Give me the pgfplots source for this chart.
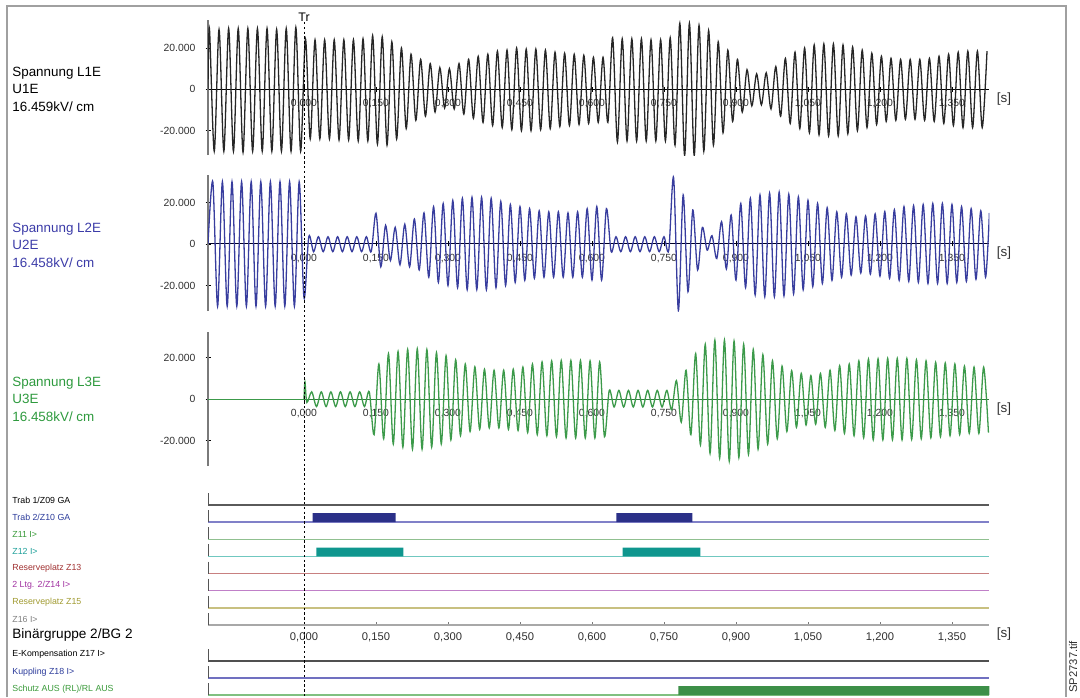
\documentclass[border=0pt]{standalone}
\usepackage{pgfplots}
\pgfplotsset{compat=1.18}
\usepackage{fontspec}
\setmainfont{Liberation Sans}
\setsansfont{Liberation Sans}
\definecolor{lone}{HTML}{262626}
\definecolor{ltwo}{HTML}{383D9E}
\definecolor{lthree}{HTML}{3C9A4A}
\definecolor{axgray}{HTML}{7A7A7A}
\definecolor{labgray}{HTML}{303030}
\definecolor{framecol}{HTML}{A0A0A0}
\definecolor{ltwolab}{HTML}{3C3CA8}
\definecolor{lthreelab}{HTML}{2E9A3E}
\definecolor{navylab}{HTML}{2A3A9A}
\definecolor{greenlab}{HTML}{3A9A3A}
\definecolor{teallab}{HTML}{1FA09A}
\definecolor{redlab}{HTML}{A03030}
\definecolor{purplab}{HTML}{A030A0}
\definecolor{olivlab}{HTML}{A09A30}
\definecolor{graylab}{HTML}{808080}
\definecolor{rTrabone}{HTML}{5A5A5A}
\definecolor{rTrabtwo}{HTML}{8080C8}
\definecolor{rZelf}{HTML}{90C090}
\definecolor{rZzwoelf}{HTML}{70C8C0}
\definecolor{rZdrei}{HTML}{C88080}
\definecolor{rZvier}{HTML}{C080C8}
\definecolor{rZfuenf}{HTML}{C8C080}
\definecolor{rZsechs}{HTML}{A8A8A8}
\definecolor{rEkomp}{HTML}{505050}
\definecolor{rKupp}{HTML}{7070C0}
\definecolor{rSchutz}{HTML}{80C080}
\definecolor{barnavy}{HTML}{2B3088}
\definecolor{barteal}{HTML}{0F968E}
\definecolor{bargreen}{HTML}{3D8F48}
\definecolor{rowtick}{HTML}{555555}

\pgfplotsset{
  wave/.style={
    scale only axis, width=390.7pt,
    xmin=-0.2, xmax=1.428,
    axis x line=middle, axis y line=left,
    axis line style={-},
    y axis line style={draw=axgray, line width=1pt},
    xtick={0,0.15,0.3,0.45,0.6,0.75,0.9,1.05,1.2,1.35},
    xticklabels={{0,000},{0,150},{0,300},{0,450},{0,600},{0,750},{0,900},{1,050},{1,200},{1,350}},
    ytick={-20,0,20},
    yticklabels={{-20.000},{0},{20.000}},
    hide obscured x ticks=false, hide obscured y ticks=false,
    tick label style={font=\fontsize{5.2}{6}\selectfont, text=labgray},
    xticklabel style={yshift=-0.2pt},
    yticklabel style={xshift=-1.5pt},
    tick align=center,
    major tick length=2.5pt,
    tick style={black, line width=0.4pt},
    clip=true,
  },
  wv/.style={line width=0.65pt, smooth, tension=0.5},
  binrow/.style={scale only axis, width=390.7pt, xmin=-0.2, xmax=1.428, clip=false},
}

\begin{document}
\begin{tikzpicture}
\path[use as bounding box] (0pt,0pt) rectangle (540pt,-348.5pt);
\draw[framecol, line width=0.8pt] (3.5pt,-348.5pt) -- (3.5pt,-3pt) -- (533pt,-3pt) -- (533pt,-348.5pt);

% ---------------- L1 ----------------
\begin{axis}[wave, at={(104pt,-77.5pt)}, anchor=south west, height=67.5pt,
  ymin=-31.8, ymax=33.6, x axis line style={draw=black, line width=0.5pt}]
\addplot[lone, wv] coordinates {
(-0.2,0) (-0.197,29.5) (-0.187,-30) (-0.177,29) (-0.167,-30) (-0.157,29.5) (-0.147,-30) (-0.137,29.5) (-0.127,-30.5) (-0.117,29.5) (-0.107,-30) (-0.097,29.5) (-0.087,-30) (-0.077,29.5) (-0.067,-30) (-0.057,29) (-0.047,-30) (-0.037,29.5) (-0.027,-30) (-0.017,30) (-0.007,-30)
(0.003,24.5) (0.013,-24) (0.023,24) (0.033,-24) (0.043,24) (0.053,-24) (0.063,24) (0.073,-24.5) (0.083,24) (0.093,-24.5) (0.103,24) (0.113,-25) (0.123,24.5) (0.133,-25) (0.143,26) (0.153,-26.5) (0.163,25.5) (0.173,-27) (0.183,23) (0.193,-24) (0.203,20) (0.213,-19) (0.223,17) (0.233,-15) (0.243,14.5) (0.253,-13) (0.263,12.5) (0.273,-11) (0.283,10.5) (0.293,-9) (0.303,10) (0.313,-9.5) (0.323,12.5) (0.333,-12) (0.343,14.5) (0.353,-14) (0.363,16) (0.373,-16) (0.383,17) (0.393,-17.5) (0.403,18.5) (0.413,-18.5) (0.423,19) (0.433,-19.5) (0.443,20) (0.453,-20) (0.463,19.5) (0.473,-20) (0.483,19.5) (0.493,-19.5) (0.503,19) (0.513,-19) (0.523,18) (0.533,-18) (0.543,17.5) (0.553,-17.5) (0.563,17) (0.573,-17) (0.583,16.5) (0.593,-16.5) (0.603,15.5) (0.613,-16) (0.623,15.5) (0.633,-16)
(0.643,25) (0.653,-25.5) (0.663,24.5) (0.673,-25) (0.683,24.5) (0.693,-25) (0.703,24.5) (0.713,-25) (0.723,24) (0.733,-25) (0.743,24) (0.753,-25) (0.763,25) (0.773,-27) (0.783,32) (0.793,-32) (0.803,32) (0.813,-32) (0.823,31) (0.833,-30) (0.843,28.5) (0.853,-27) (0.863,23) (0.873,-21) (0.883,19) (0.893,-15.5) (0.903,14.5) (0.913,-11) (0.923,9.5) (0.933,-8) (0.943,7.5) (0.953,-7.5) (0.963,8) (0.973,-9.5) (0.983,11) (0.993,-13) (1.003,15) (1.013,-16.5) (1.023,18) (1.033,-19) (1.043,20) (1.053,-21) (1.063,21.5) (1.073,-22) (1.083,22) (1.093,-22.5) (1.103,22) (1.113,-22.5) (1.123,21.5) (1.133,-21.5) (1.143,20.5) (1.153,-20) (1.163,19) (1.173,-18.5) (1.183,17.5) (1.193,-17) (1.203,16) (1.213,-15.5) (1.223,15) (1.233,-15) (1.243,14.5) (1.253,-14.5) (1.263,14.5) (1.273,-14.5) (1.283,14.5) (1.293,-15) (1.303,15) (1.313,-15.5) (1.323,16) (1.333,-16.5) (1.343,17) (1.353,-17.5) (1.363,18) (1.373,-18.5) (1.383,18.5) (1.393,-18.5) (1.403,18.5) (1.413,-18.5) (1.423,18.5)
};
\end{axis}

% ---------------- L2 ----------------
\begin{axis}[wave, at={(104pt,-155.5pt)}, anchor=south west, height=68pt,
  ymin=-32.3, ymax=33.25, x axis line style={draw=black!85!blue, line width=0.5pt}]
\addplot[ltwo, wv] coordinates {
(-0.2,0) (-0.19,30) (-0.18,-30) (-0.17,30) (-0.16,-30) (-0.15,30) (-0.14,-30) (-0.13,30) (-0.12,-30) (-0.11,30) (-0.1,-30) (-0.09,30) (-0.08,-30) (-0.07,30) (-0.06,-30) (-0.05,30) (-0.04,-30) (-0.03,30) (-0.02,-30) (-0.01,30) (0,-26)
(0.01,3.5) (0.02,-3.7) (0.03,3.5) (0.04,-3.7) (0.05,3.5) (0.06,-3.7) (0.07,3.5) (0.08,-3.7) (0.09,3.5) (0.1,-3.7) (0.11,3.5) (0.12,-3.7) (0.13,3.5) (0.14,-3.7) (0.15,14.8) (0.16,-11) (0.17,9) (0.18,-8) (0.19,8) (0.2,-10) (0.21,9.5) (0.22,-11) (0.23,12) (0.24,-12.5) (0.25,15) (0.26,-16) (0.27,18) (0.28,-18.5) (0.29,19.5) (0.3,-20) (0.31,21) (0.32,-21) (0.33,22) (0.34,-22) (0.35,22.5) (0.36,-22) (0.37,22.5) (0.38,-22) (0.39,22) (0.4,-21) (0.41,20.5) (0.42,-20) (0.43,19) (0.44,-18.5) (0.45,18) (0.46,-17.5) (0.47,17) (0.48,-16.5) (0.49,16) (0.5,-16) (0.51,15.5) (0.52,-16) (0.53,15.5) (0.54,-16) (0.55,15) (0.56,-16) (0.57,15.5) (0.58,-16) (0.59,17) (0.6,-17.4) (0.61,18) (0.62,-17.4) (0.63,17)
(0.64,-3.7) (0.65,3.5) (0.66,-3.7) (0.67,3.5) (0.68,-3.7) (0.69,3.5) (0.7,-3.7) (0.71,3.5) (0.72,-3.7) (0.73,3.5) (0.74,-3.7) (0.75,3.5) (0.76,-3) (0.77,32) (0.78,-32) (0.79,23.6) (0.8,-23) (0.81,16.4) (0.82,-12.5) (0.83,8) (0.84,-3) (0.85,4) (0.86,-7) (0.87,10.8) (0.88,-12) (0.89,14) (0.9,-17.4) (0.91,19.5) (0.92,-21) (0.93,22) (0.94,-24.6) (0.95,23.6) (0.96,-25.4) (0.97,24.5) (0.98,-25.4) (0.99,25) (1,-25) (1.01,24) (1.02,-24) (1.03,22.7) (1.04,-22) (1.05,21) (1.06,-20.5) (1.07,19.5) (1.08,-19) (1.09,17.5) (1.1,-17.5) (1.11,15.5) (1.12,-16) (1.13,14.5) (1.14,-15) (1.15,13.1) (1.16,-14) (1.17,13.5) (1.18,-14.5) (1.19,14.5) (1.2,-15.5) (1.21,15.6) (1.22,-16.5) (1.23,16.5) (1.24,-17.5) (1.25,18) (1.26,-18) (1.27,18.5) (1.28,-18.5) (1.29,19) (1.3,-19) (1.31,19.5) (1.32,-19) (1.33,19.5) (1.34,-19) (1.35,19) (1.36,-18.5) (1.37,18) (1.38,-18) (1.39,17) (1.4,-17) (1.41,16) (1.42,-16) (1.428,15)
};
\end{axis}

% ---------------- L3 ----------------
\begin{axis}[wave, at={(104pt,-233pt)}, anchor=south west, height=67pt,
  ymin=-32.1, ymax=32.4, x axis line style={draw=lthree!80!black, line width=0.5pt}]
\addplot[lthree, line width=0.65pt] coordinates {(-0.2,0) (0,0)};
\addplot[lthree, wv] coordinates {
(0,0) (0.002,8.4) (0.006,-1.5) (0.016,3.6) (0.026,-3.5) (0.036,3.6) (0.046,-3.5) (0.056,3.6) (0.066,-3.5) (0.076,3.6) (0.086,-3.5) (0.096,3.6) (0.106,-3.5) (0.116,3.6) (0.126,-3.5) (0.136,3.6)
(0.146,-17) (0.156,17) (0.166,-19) (0.176,22) (0.186,-21.5) (0.196,23) (0.206,-23) (0.216,24) (0.226,-24) (0.236,24.3) (0.246,-24) (0.256,24) (0.266,-23) (0.276,22.5) (0.286,-21.5) (0.296,21) (0.306,-19.5) (0.316,19) (0.326,-17.5) (0.336,17) (0.346,-15.5) (0.356,15.6) (0.366,-14.5) (0.376,14.5) (0.386,-13.8) (0.396,14) (0.406,-13.8) (0.416,14) (0.426,-14.5) (0.436,14.5) (0.446,-15) (0.456,15.5) (0.466,-16) (0.476,17) (0.486,-17) (0.496,18) (0.506,-17.5) (0.516,18.5) (0.526,-18) (0.536,18.7) (0.546,-18.6) (0.556,18.7) (0.566,-18.6) (0.576,18.7) (0.586,-18.6) (0.596,18.5) (0.606,-18.6) (0.616,18) (0.626,-18)
(0.636,4.3) (0.646,-3.7) (0.656,4.3) (0.666,-3.7) (0.676,4.3) (0.686,-3.7) (0.696,4.3) (0.706,-3.7) (0.716,4.3) (0.726,-3.7) (0.736,4.3) (0.746,-3.7) (0.756,4.3) (0.766,-5) (0.776,9) (0.786,-11) (0.796,14) (0.806,-17) (0.816,22) (0.826,-22) (0.836,26.5) (0.846,-26) (0.856,28.5) (0.866,-28.3) (0.876,28.5) (0.886,-29.8) (0.896,28) (0.906,-28) (0.916,26.5) (0.926,-26.5) (0.936,24) (0.946,-24) (0.956,21.5) (0.966,-21.5) (0.976,18.6) (0.986,-19) (0.996,16) (1.006,-15.5) (1.016,13.8) (1.026,-13.5) (1.036,12.5) (1.046,-12.4) (1.056,11.4) (1.066,-12) (1.076,12.5) (1.086,-13.5) (1.096,14) (1.106,-15) (1.116,16.2) (1.126,-16.4) (1.136,17) (1.146,-17.5) (1.156,18.5) (1.166,-18.5) (1.176,19.4) (1.186,-19.5) (1.196,19.5) (1.206,-19.5) (1.216,19.7) (1.226,-19.5) (1.236,19.7) (1.246,-19.5) (1.256,19.7) (1.266,-19.3) (1.276,19) (1.286,-19) (1.296,18.5) (1.306,-18.5) (1.316,17.8) (1.326,-18) (1.336,17.5) (1.346,-17.5) (1.356,17) (1.366,-17) (1.376,16) (1.386,-16.4) (1.396,15.5) (1.406,-16.4) (1.416,15.5) (1.426,-16)
};
\end{axis}

% ---------------- Binary group 1 ----------------
\begin{axis}[binrow, at={(104pt,-312.5pt)}, anchor=south west, height=68.57pt,
  ymin=-7, ymax=1, axis x line=bottom, axis y line=none,
  x axis line style={-, draw=rZsechs, line width=0.75pt},
  xtick={0,0.15,0.3,0.45,0.6,0.75,0.9,1.05,1.2,1.35},
  xticklabels={{0,000},{0,150},{0,300},{0,450},{0,600},{0,750},{0,900},{1,050},{1,200},{1,350}},
  tick label style={font=\fontsize{5.6}{6}\selectfont, text=labgray},
  xticklabel style={yshift=-0.5pt},
  tick align=inside, major tick length=1.5pt, tick style={axgray, line width=0.4pt}]
\addplot[rTrabone, line width=0.75pt] coordinates {(-0.2,0) (1.428,0)};
\addplot[rTrabtwo, line width=0.75pt] coordinates {(-0.2,-1) (1.428,-1)};
\addplot[rZelf, line width=0.75pt] coordinates {(-0.2,-2) (1.428,-2)};
\addplot[rZzwoelf, line width=0.75pt] coordinates {(-0.2,-3) (1.428,-3)};
\addplot[rZdrei, line width=0.75pt] coordinates {(-0.2,-4) (1.428,-4)};
\addplot[rZvier, line width=0.75pt] coordinates {(-0.2,-5) (1.428,-5)};
\addplot[rZfuenf, line width=0.75pt] coordinates {(-0.2,-6) (1.428,-6)};
\addplot[rZsechs, line width=0.75pt] coordinates {(-0.2,-7) (1.428,-7)};
\addplot[rowtick, line width=0.5pt] coordinates {(-0.2,0.7) (-0.2,0)};
\addplot[rowtick, line width=0.5pt] coordinates {(-0.2,-0.3) (-0.2,-1)};
\addplot[rowtick, line width=0.5pt] coordinates {(-0.2,-1.3) (-0.2,-2)};
\addplot[rowtick, line width=0.5pt] coordinates {(-0.2,-2.3) (-0.2,-3)};
\addplot[rowtick, line width=0.5pt] coordinates {(-0.2,-3.3) (-0.2,-4)};
\addplot[rowtick, line width=0.5pt] coordinates {(-0.2,-4.3) (-0.2,-5)};
\addplot[rowtick, line width=0.5pt] coordinates {(-0.2,-5.3) (-0.2,-6)};
\addplot[rowtick, line width=0.5pt] coordinates {(-0.2,-6.3) (-0.2,-7)};
% bars
\addplot[fill=barnavy, draw=none] coordinates {(0.018,-1) (0.191,-1) (0.191,-0.48) (0.018,-0.48) (0.018,-1)};
\addplot[fill=barnavy, draw=none] coordinates {(0.651,-1) (0.809,-1) (0.809,-0.48) (0.651,-0.48) (0.651,-1)};
\addplot[fill=barteal, draw=none] coordinates {(0.026,-3) (0.207,-3) (0.207,-2.48) (0.026,-2.48) (0.026,-3)};
\addplot[fill=barteal, draw=none] coordinates {(0.664,-3) (0.826,-3) (0.826,-2.48) (0.664,-2.48) (0.664,-3)};
\end{axis}

% ---------------- Binary group 2 ----------------
\begin{axis}[binrow, at={(104pt,-347.5pt)}, anchor=south west, height=23.8pt,
  ymin=-2, ymax=0.8, axis lines=none]
\addplot[rEkomp, line width=0.75pt] coordinates {(-0.2,0) (1.428,0)};
\addplot[rKupp, line width=0.75pt] coordinates {(-0.2,-1) (1.428,-1)};
\addplot[rSchutz, line width=0.75pt] coordinates {(-0.2,-2) (1.428,-2)};
\addplot[rowtick, line width=0.5pt] coordinates {(-0.2,0.7) (-0.2,0)};
\addplot[rowtick, line width=0.5pt] coordinates {(-0.2,-0.3) (-0.2,-1)};
\addplot[rowtick, line width=0.5pt] coordinates {(-0.2,-1.3) (-0.2,-2)};
\addplot[fill=bargreen, draw=none] coordinates {(0.780,-2) (1.428,-2) (1.428,-1.47) (0.780,-1.47) (0.780,-2)};
\end{axis}

% ---------------- Labels ----------------
\begin{scope}[every node/.style={inner sep=0pt}]
\node[anchor=base west, align=left, font=\fontsize{6.7}{8.8}\selectfont, text=black] at (6pt,-55.75pt) {Spannung L1E\\U1E\\16.459kV/ cm};
\node[anchor=base west, align=left, font=\fontsize{6.7}{8.8}\selectfont, text=ltwolab] at (6pt,-133.75pt) {Spannung L2E\\U2E\\16.458kV/ cm};
\node[anchor=base west, align=left, font=\fontsize{6.7}{8.8}\selectfont, text=lthreelab] at (6pt,-210.75pt) {Spannung L3E\\U3E\\16.458kV/ cm};

\node[font=\fontsize{6.7}{8}\selectfont, text=labgray] at (502pt,-49.5pt) {[s]};
\node[font=\fontsize{6.7}{8}\selectfont, text=labgray] at (502pt,-126.5pt) {[s]};
\node[font=\fontsize{6.7}{8}\selectfont, text=labgray] at (502pt,-204.5pt) {[s]};
\node[font=\fontsize{6.7}{8}\selectfont, text=labgray] at (502pt,-317pt) {[s]};

\begin{scope}[every node/.style={inner sep=0pt, anchor=west, font=\fontsize{4.4}{5}\selectfont}]
\node[text=black] at (6pt,-250pt) {Trab 1/Z09 GA};
\node[text=navylab] at (6pt,-258.5pt) {Trab 2/Z10 GA};
\node[text=greenlab] at (6pt,-267pt) {Z11 I>};
\node[text=teallab] at (6pt,-275.5pt) {Z12 I>};
\node[text=redlab] at (6pt,-284pt) {Reserveplatz Z13};
\node[text=purplab] at (6pt,-292.5pt) {2 Ltg. 2/Z14 I>};
\node[text=olivlab] at (6pt,-301pt) {Reserveplatz Z15};
\node[text=graylab] at (6pt,-309.5pt) {Z16 I>};
\node[text=black] at (6pt,-327.2pt) {E-Kompensation Z17 I>};
\node[text=navylab] at (6pt,-336pt) {Kuppling Z18 I>};
\node[text=greenlab] at (6pt,-344.7pt) {Schutz AUS (RL)/RL AUS};
\end{scope}
\node[anchor=west, font=\fontsize{6.8}{8}\selectfont, text=black] at (6pt,-317.5pt) {Binärgruppe 2/BG 2};

\node[anchor=south, font=\fontsize{6.2}{7}\selectfont] at (152pt,-11pt) {Tr};
\node[rotate=90, anchor=west, font=\fontsize{5.6}{6}\selectfont, text=labgray] at (536.5pt,-346.5pt) {SP2737.tif};
\end{scope}

\draw[black, line width=0.5pt, dash pattern=on 1.2pt off 1.2pt] (152pt,-11pt) -- (152pt,-348.5pt);
\end{tikzpicture}
\end{document}
